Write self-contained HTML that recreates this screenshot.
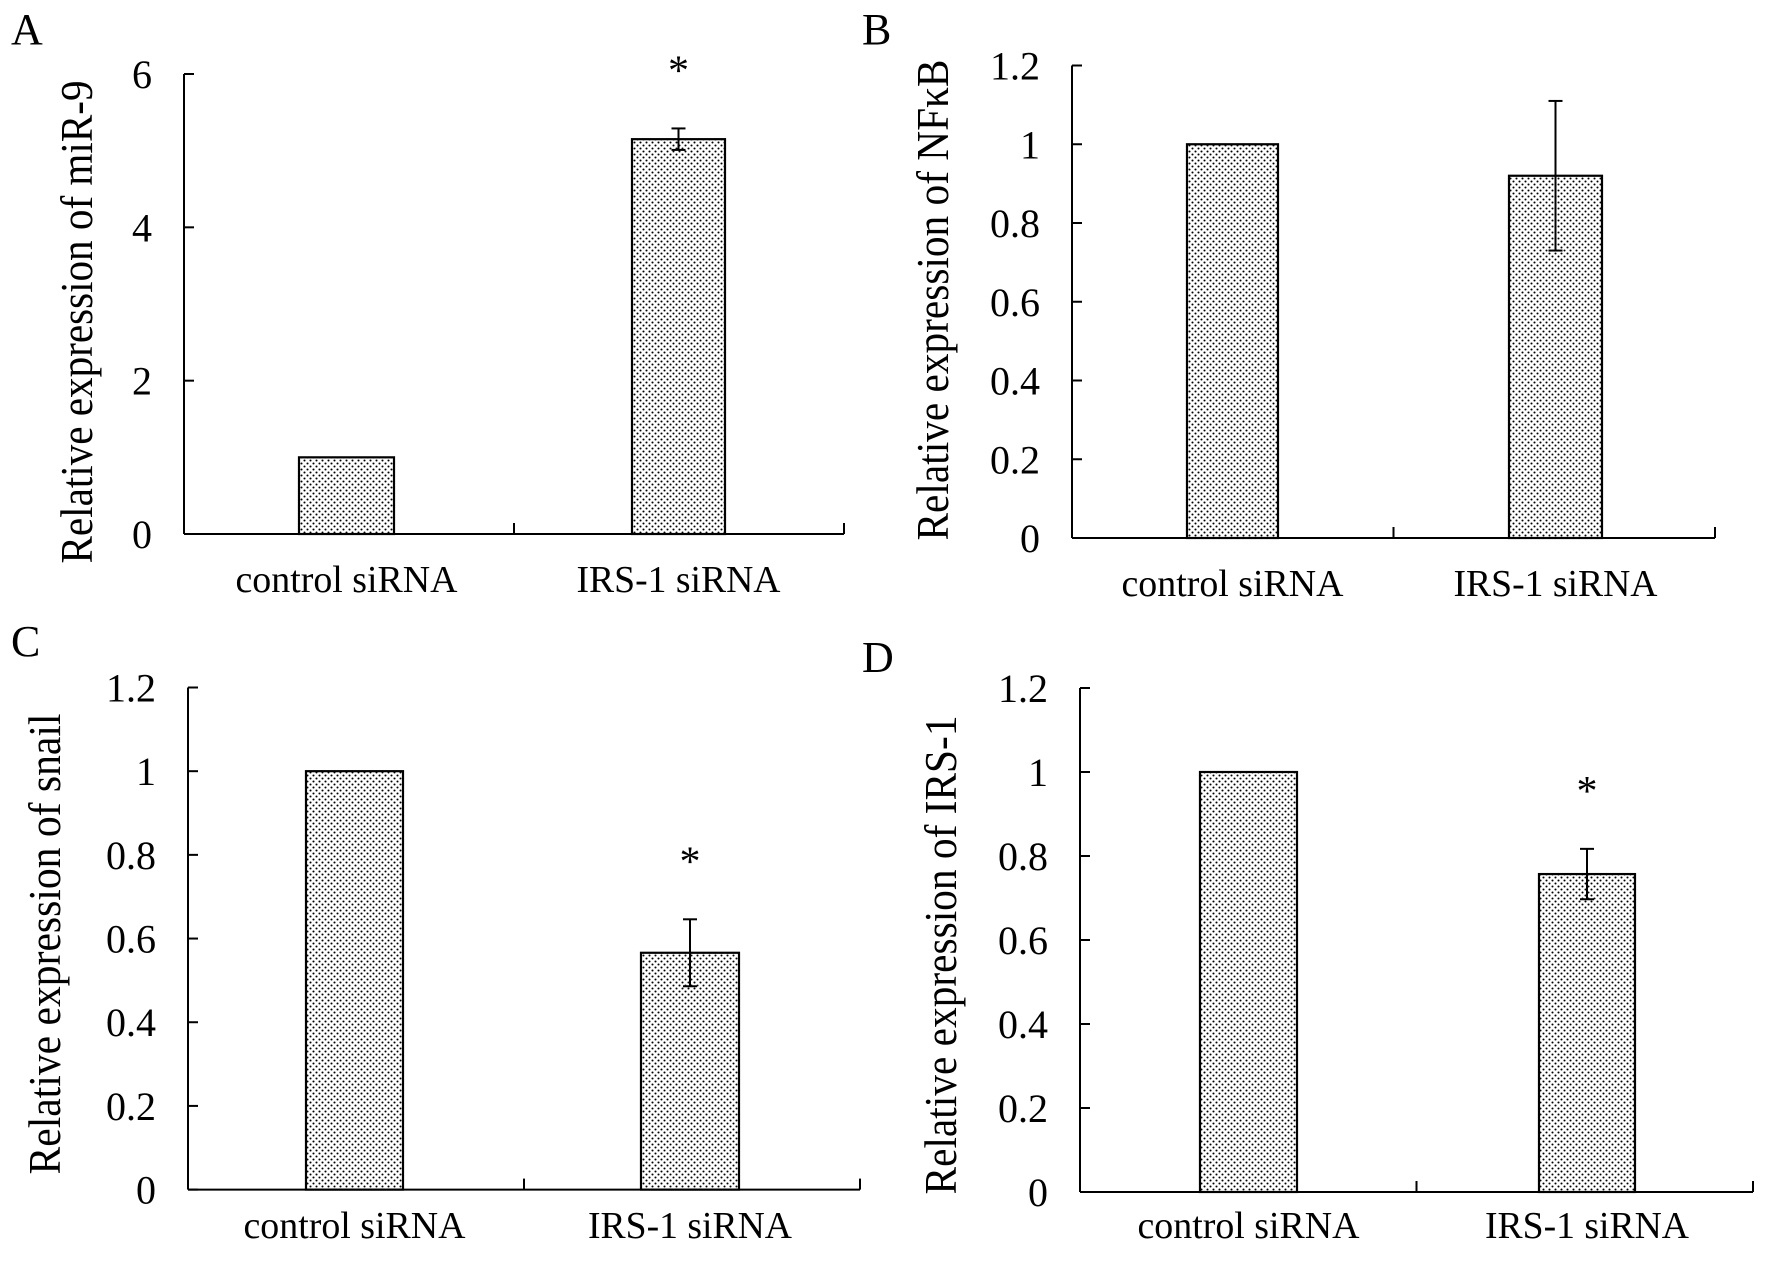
<!DOCTYPE html>
<html><head><meta charset="utf-8"><style>
html,body{margin:0;padding:0;background:#fff;}
svg{display:block;font-family:"Liberation Serif",serif;}
</style></head><body>
<svg id="chart" width="1772" height="1261" viewBox="0 0 1772 1261">
<defs>
<pattern id="dots" width="6" height="6" patternUnits="userSpaceOnUse">
<rect width="6" height="6" fill="#fff"/>
<circle cx="1.5" cy="1.5" r="1.05" fill="#000"/>
<circle cx="4.5" cy="4.5" r="1.05" fill="#000"/>
</pattern>
</defs>
</svg>
<script>
// data
const categories = ["control siRNA", "IRS-1 siRNA"];
const panelLabels = ["A", "B", "C", "D"];
const yTitles = ["Relative expression of miR-9", "Relative expression of NFκB", "Relative expression of snail", "Relative expression of IRS-1"];
const valuesA = [1.0, 5.15];
const errorsA = [0, 0.14];
const valuesB = [1.0, 0.92];
const errorsB = [0, 0.19];
const valuesC = [1.0, 0.566];
const errorsC = [0, 0.08];
const valuesD = [1.0, 0.757];
const errorsD = [0, 0.06];
const sigA = [false, true];
const sigB = [false, false];
const sigC = [false, true];
const sigD = [false, true];
const ticksA = [0, 2, 4, 6];
const ticksB = [0, 0.2, 0.4, 0.6, 0.8, 1, 1.2];
const ticksC = [0, 0.2, 0.4, 0.6, 0.8, 1, 1.2];
const ticksD = [0, 0.2, 0.4, 0.6, 0.8, 1, 1.2];
const yMaxs = [6, 1.2, 1.2, 1.2];

// layout (pixels)
const layouts = [
  {ax:184, y0:534, yTop:74, xEnd:844, bars:[[299,394],[632,725]], tx:76, tyc:322, tlen:483, lx:11, ly:44, xly:592},
  {ax:1072, y0:538, yTop:65.5, xEnd:1715, bars:[[1187,1278],[1509,1602]], tx:932, tyc:300, tlen:481, lx:862, ly:44, xly:596},
  {ax:188, y0:1189.6, yTop:687.5, xEnd:860, bars:[[306,403],[641,739]], tx:44, tyc:944, tlen:461, lx:11, ly:656, xly:1238},
  {ax:1080, y0:1192, yTop:688, xEnd:1753, bars:[[1200,1297],[1539,1635]], tx:940, tyc:955, tlen:479, lx:862, ly:672, xly:1238}
];
const allValues = [valuesA, valuesB, valuesC, valuesD];
const allErrors = [errorsA, errorsB, errorsC, errorsD];
const allSig = [sigA, sigB, sigC, sigD];
const allTicks = [ticksA, ticksB, ticksC, ticksD];

const NS = "http://www.w3.org/2000/svg";
const svg = document.getElementById("chart");
function mk(tag, attrs, parent) {
  const e = document.createElementNS(NS, tag);
  for (const k in attrs) e.setAttribute(k, attrs[k]);
  (parent || svg).appendChild(e);
  return e;
}

layouts.forEach((L, p) => {
  const g = mk("g", {});
  
  
  const yScale = v => L.y0 - (v / yMaxs[p]) * (L.y0 - L.yTop);

  const lab = mk("text", {x: L.lx, y: L.ly, "font-size": 44}, g);
  lab.textContent = panelLabels[p];
  
  

  const title = mk("text", {x: 0, y: 0, "font-size": 46, "text-anchor": "middle",
    transform: `translate(${L.tx + 16},${L.tyc}) rotate(-90)`, textLength: L.tlen, lengthAdjust: "spacingAndGlyphs"}, g);
  title.textContent = yTitles[p];
  
  

  // bars
  allValues[p].forEach((v, i) => {
    const [x1, x2] = L.bars[i];
    const yT = yScale(v);
    const r = mk("rect", {x: x1, y: yT, width: x2 - x1, height: L.y0 - yT, fill: "url(#dots)", stroke: "#000", "stroke-width": 2.2}, g);
    
    
    const e = allErrors[p][i];
    const cx = (x1 + x2) / 2;
    if (e > 0) {
      const eg = mk("g", {stroke: "#000", "stroke-width": 2}, g);
      
      
      mk("line", {x1: cx, x2: cx, y1: yScale(v + e), y2: yScale(v - e)}, eg);
      mk("line", {x1: cx - 7, x2: cx + 7, y1: yScale(v + e), y2: yScale(v + e)}, eg);
      mk("line", {x1: cx - 7, x2: cx + 7, y1: yScale(v - e), y2: yScale(v - e)}, eg);
    }
    if (allSig[p][i]) {
      const s = mk("text", {x: cx, y: yScale(v + e) - 44, "font-size": 42, "text-anchor": "middle"}, g);
      s.textContent = "*";
      
      
    }
    const xl = mk("text", {x: cx, y: L.xly, "font-size": 38, "text-anchor": "middle",
      textLength: i === 0 ? 222 : 204, lengthAdjust: "spacingAndGlyphs"}, g);
    xl.textContent = categories[i];
    
    
  });

  // axes
  const ya = mk("line", {x1: L.ax, x2: L.ax, y1: L.yTop, y2: L.y0, stroke: "#000", "stroke-width": 2}, g);
  
  
  const xa = mk("line", {x1: L.ax, x2: L.xEnd, y1: L.y0, y2: L.y0, stroke: "#000", "stroke-width": 2}, g);
  
  
  const mid = (L.ax + L.xEnd) / 2;
  [mid, L.xEnd].forEach(x => {
    const t = mk("line", {x1: x, x2: x, y1: L.y0 - 11, y2: L.y0, stroke: "#000", "stroke-width": 2}, g);
    
    
  });
  allTicks[p].forEach(t => {
    const y = yScale(t);
    const tk = mk("line", {x1: L.ax, x2: L.ax + 10, y1: y, y2: y, stroke: "#000", "stroke-width": 2}, g);
    
    
    const tl = mk("text", {x: L.ax - 32, y: y + 14, "font-size": 40, "text-anchor": "end"}, g);
    tl.textContent = String(t);
    
    
  });
});
</script>
</body></html>
